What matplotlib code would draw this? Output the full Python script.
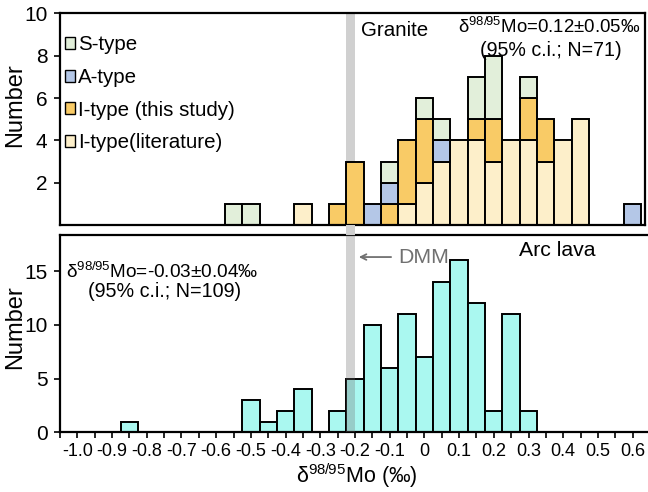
import numpy as np
import matplotlib
matplotlib.use("Agg")
import matplotlib.pyplot as plt
from matplotlib.patches import Patch, Rectangle
from matplotlib.transforms import blended_transform_factory

plt.rcParams['font.family'] = ['Liberation Sans', 'DejaVu Sans']
plt.rcParams['mathtext.default'] = 'regular'

# granite histogram (bin centres, 0.05 wide), stacked by type
granite_bins = [-0.55, -0.50, -0.35, -0.25, -0.20, -0.15, -0.10, -0.05, 0.00,
                0.05, 0.10, 0.15, 0.20, 0.25, 0.30, 0.35, 0.40, 0.45, 0.60]
i_literature = [0, 0, 1, 0, 0, 0, 0, 1, 2, 3, 4, 4, 3, 4, 4, 3, 4, 5, 0]
i_this_study = [0, 0, 0, 1, 3, 0, 1, 3, 3, 0, 0, 1, 2, 0, 2, 2, 0, 0, 0]
a_type = [0, 0, 0, 0, 0, 1, 1, 0, 0, 1, 0, 0, 0, 0, 0, 0, 0, 0, 1]
s_type = [1, 1, 0, 0, 0, 0, 1, 0, 1, 1, 0, 2, 3, 0, 1, 0, 0, 0, 0]

# arc lava histogram
arc_bins = [-0.85, -0.50, -0.45, -0.40, -0.35, -0.25, -0.20, -0.15, -0.10,
            -0.05, 0.00, 0.05, 0.10, 0.15, 0.20, 0.25, 0.30]
arc_counts = [1, 3, 1, 2, 4, 2, 5, 10, 6, 11, 7, 14, 16, 12, 2, 11, 2]

dmm_range = (-0.225, -0.20)

c_lit = '#fdefca'
c_this = '#f9cb66'
c_a = '#b4c7e7'
c_s = '#e2efda'
c_arc = '#aaf8f0'
lw = 1.4

fig = plt.figure(figsize=(6.48, 4.92), dpi=100)
ax1 = fig.add_axes([60 / 648, 1 - 225 / 492, 585 / 648, 211.5 / 492])
ax2 = fig.add_axes([60 / 648, 1 - 432.3 / 492, 590 / 648, 197.3 / 492])

# --- granite panel
ax1.axvspan(*dmm_range, color='#d0d0d0', lw=0, zorder=0)
bottom = np.zeros(len(granite_bins))
for vals, col in [(i_literature, c_lit), (i_this_study, c_this),
                  (a_type, c_a), (s_type, c_s)]:
    vals = np.array(vals)
    mask = vals > 0
    ax1.bar(np.array(granite_bins)[mask], vals[mask], width=0.05,
            bottom=bottom[mask], color=col, edgecolor='black', lw=lw, zorder=2)
    bottom = bottom + vals

ax1.set_xlim(-1.05, 0.636)
ax1.set_ylim(0, 10)
ax1.set_yticks([2, 4, 6, 8, 10])
ax1.tick_params(axis='x', bottom=False, labelbottom=False)
ax1.tick_params(axis='y', labelsize=15, direction='out', length=4, width=1.2, pad=5)
for s in ax1.spines.values():
    s.set_linewidth(1.6)
ax1.set_ylabel('Number', fontsize=17)
ax1.yaxis.set_label_coords(-0.058, 0.567)

handles = [Patch(facecolor=c_s, edgecolor='black', lw=1.0, label='S-type'),
           Patch(facecolor=c_a, edgecolor='black', lw=1.0, label='A-type'),
           Patch(facecolor=c_this, edgecolor='black', lw=1.0, label='I-type (this study)'),
           Patch(facecolor=c_lit, edgecolor='black', lw=1.0, label='I-type(literature)')]
ax1.legend(handles=handles, loc='upper left', bbox_to_anchor=(0.008, 0.896),
           frameon=False, fontsize=14.8, handlelength=0.5, handleheight=0.5,
           handletextpad=0.15, labelspacing=0.66, borderaxespad=0, borderpad=0)

ax1.text(-0.085, 9.2, 'Granite', ha='center', va='center', fontsize=14.8)
ax1.text(0.361, 9.35, 'δ$^{98/95}$Mo=0.12±0.05‰', ha='center', va='center', fontsize=13.4)
ax1.text(0.365, 8.27, '(95% c.i.; N=71)', ha='center', va='center', fontsize=14.1)

# --- arc lava panel
ax2.bar(arc_bins, arc_counts, width=0.05, color=c_arc, edgecolor='black', lw=lw, zorder=2)
ax2.axvspan(*dmm_range, color='#6c6c6c', alpha=0.3, lw=0, zorder=3)
ax2.set_xlim(-1.05, 0.65)
ax2.set_ylim(0, 18.35)
ax2.set_yticks([0, 5, 10, 15])
ticks = np.round(np.arange(-1.05, 0.651, 0.05), 2)
labels = []
for t in ticks:
    if abs(t * 10 - round(t * 10)) < 1e-6:
        labels.append('0' if abs(t) < 1e-9 else f'{t:.1f}')
    else:
        labels.append('')
ax2.set_xticks(ticks)
ax2.set_xticklabels(labels)
ax2.tick_params(axis='x', labelsize=13, direction='out', length=4, width=1.2, pad=4)
ax2.tick_params(axis='y', labelsize=15, direction='out', length=4, width=1.2, pad=5)
ax2.spines['right'].set_visible(False)
for s in ['left', 'bottom', 'top']:
    ax2.spines[s].set_linewidth(1.6)
ax2.set_ylabel('Number', fontsize=17)
ax2.yaxis.set_label_coords(-0.057, 0.534)
ax2.set_xlabel('δ$^{98/95}$Mo (‰)', fontsize=15.5)
ax2.xaxis.set_label_coords(0.503, -0.15)

ax2.text(0.384, 16.9, 'Arc lava', ha='center', va='center', fontsize=15.3)
ax2.text(-0.076, 16.3, 'DMM', ha='left', va='center', fontsize=15.3, color='#707070')
ax2.annotate('', xy=(-0.197, 16.3), xytext=(-0.088, 16.3),
             arrowprops=dict(arrowstyle='->', color='#707070', lw=1.3))
ax2.text(-0.756, 14.9, 'δ$^{98/95}$Mo=-0.03±0.04‰', ha='center', va='center', fontsize=13.7)
ax2.text(-0.75, 13.1, '(95% c.i.; N=109)', ha='center', va='center', fontsize=14.2)

# DMM band through the gap between the panels
trans = blended_transform_factory(ax2.transData, fig.transFigure)
fig.add_artist(Rectangle((dmm_range[0], 1 - 235 / 492), dmm_range[1] - dmm_range[0],
                         10 / 492, transform=trans, color='#d0d0d0', lw=0))

fig.savefig('out.png', dpi=100)
